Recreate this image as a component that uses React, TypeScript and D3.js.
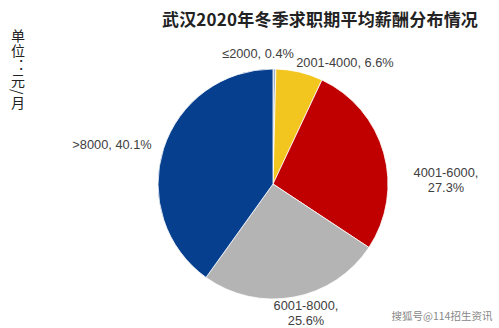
import React from "react";
import * as d3 from "d3";

const categories = ["≤2000", "2001-4000", "4001-6000", "6001-8000", ">8000"];
const values = [0.4, 6.6, 27.3, 25.6, 40.1];
const colors = ["#9DB3CF", "#F3C51F", "#C00000", "#B4B4B4", "#073F8F"];
const title = "武汉2020年冬季求职期平均薪酬分布情况";
const unitLabel = "单位：元/月";
const watermark = "搜狐号@114招生资讯";

const labelLines: string[][] = [
  [`${categories[0]}, ${values[0]}%`],
  [`${categories[1]}, ${values[1]}%`],
  [`${categories[2]},`, `${values[2]}%`],
  [`${categories[3]},`, `${values[3]}%`],
  [`${categories[4]}, ${values[4]}%`],
];
const labelPos: [number, number][] = [
  [258, 58],
  [345, 67],
  [446, 177],
  [306, 310],
  [112, 149],
];

export default function App() {
  const W = 499;
  const H = 328;
  const cx = 273;
  const cy = 184;
  const r = 115;
  const pie = d3.pie<number>().sort(null).value((d) => d)(values);
  const arc = d3.arc<d3.PieArcDatum<number>>().innerRadius(0).outerRadius(r);
  const font = "'Liberation Sans', Arial, sans-serif";
  return (
    <svg
      width={W}
      height={H}
      style={{ position: "absolute", left: 0, top: 0, background: "#fff" }}
    >
      <text
        x={320}
        y={26}
        textAnchor="middle"
        fontFamily="'Noto Sans CJK SC', sans-serif"
        fontWeight="bold"
        fontSize={17}
        letterSpacing={0.2}
        fill="#222"
      >
        {title}
      </text>
      <text
        x={18}
        y={29}
        fontFamily="'Noto Sans CJK SC', sans-serif"
        fontSize={14}
        fill="#222"
        style={{ writingMode: "vertical-rl" } as React.CSSProperties}
        letterSpacing={1}
      >
        {unitLabel}
      </text>
      <g transform={`translate(${cx},${cy})`}>
        {pie.map((p, i) => (
          <path
            key={i}
            d={arc(p) || ""}
            fill={colors[i]}
            stroke="#fff"
            strokeWidth={0.8}
          />
        ))}
      </g>
      {labelLines.map((lines, i) => (
        <text
          key={i}
          x={labelPos[i][0]}
          y={labelPos[i][1]}
          textAnchor="middle"
          fontFamily={font}
          fontSize={12.8}
          fill="#404040"
        >
          {lines.map((l, j) => (
            <tspan key={j} x={labelPos[i][0]} dy={j === 0 ? 0 : 14.8}>
              {l}
            </tspan>
          ))}
        </text>
      ))}
      <text
        x={442}
        y={320}
        textAnchor="middle"
        fontFamily="'Noto Sans CJK SC', sans-serif"
        fontSize={10.5}
        fill="#888"
      >
        {watermark}
      </text>
    </svg>
  );
}
